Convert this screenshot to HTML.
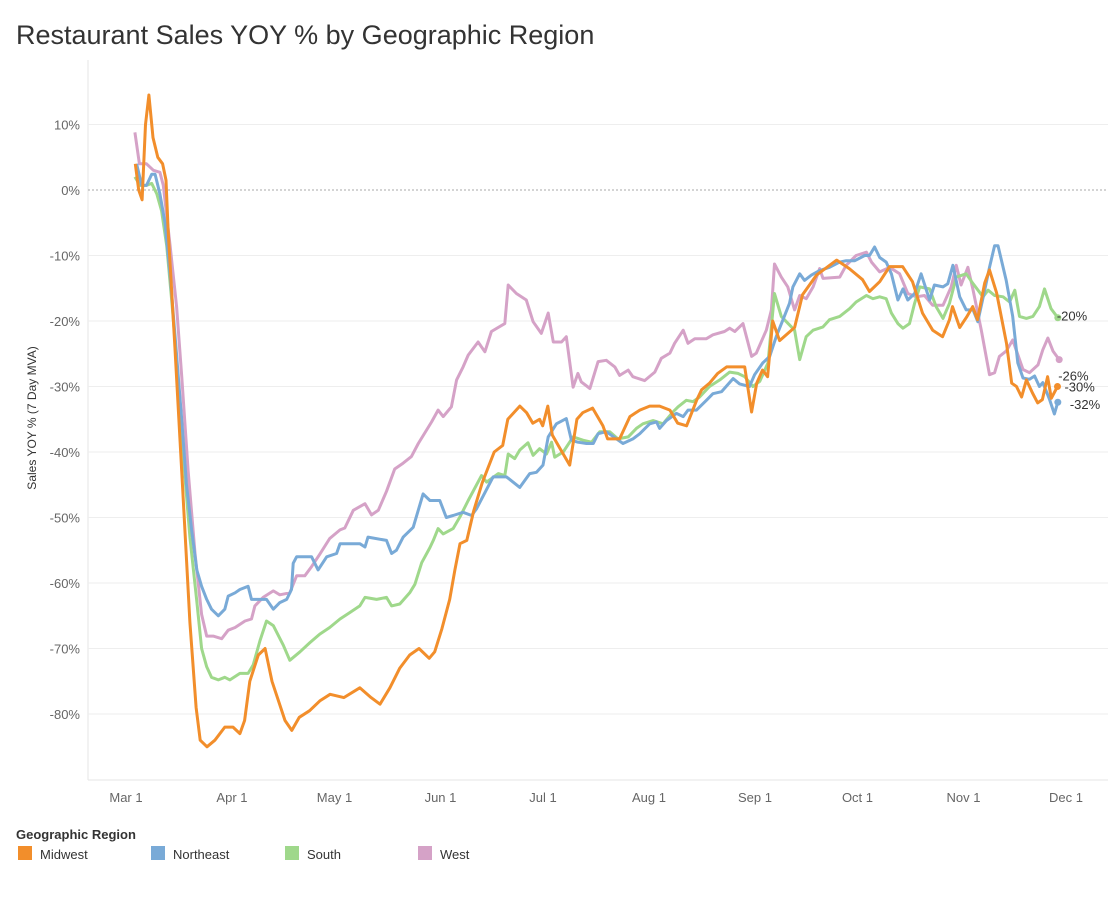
<!DOCTYPE html>
<html><head><meta charset="utf-8"><style>
body{margin:0;background:#fff;font-family:"Liberation Sans",sans-serif;}
svg text{font-family:"Liberation Sans",sans-serif;}
</style></head><body>
<svg id="chart" width="1120" height="896" viewBox="0 0 1120 896">
<text x="16" y="44" font-size="27" fill="#333">Restaurant Sales YOY % by Geographic Region</text>
<line x1="88" y1="60" x2="88" y2="780" stroke="#e6e6e6"/>
<line x1="88" y1="780" x2="1108" y2="780" stroke="#e6e6e6"/>
<g id="grid"></g><g id="yticks"></g><g id="xticks"></g><g id="series"></g><g id="ends"></g>
<text transform="translate(36,418) rotate(-90)" text-anchor="middle" font-size="12" fill="#333">Sales YOY % (7 Day MVA)</text>
<g>
<text x="16" y="839" font-size="13" fill="#333" font-weight="bold">Geographic Region</text>
<g><rect x="18" y="846" width="14" height="14" fill="#f28e2b"/><text x="40" y="859" font-size="13" fill="#333">Midwest</text></g>
<g><rect x="151" y="846" width="14" height="14" fill="#79aad7"/><text x="173" y="859" font-size="13" fill="#333">Northeast</text></g>
<g><rect x="285" y="846" width="14" height="14" fill="#9fd88b"/><text x="307" y="859" font-size="13" fill="#333">South</text></g>
<g><rect x="418" y="846" width="14" height="14" fill="#d5a2c7"/><text x="440" y="859" font-size="13" fill="#333">West</text></g>
</g>
</svg>
<script>
const yTickVals=[10,0,-10,-20,-30,-40,-50,-60,-70,-80];
const xTickLabels=["Mar 1","Apr 1","May 1","Jun 1","Jul 1","Aug 1","Sep 1","Oct 1","Nov 1","Dec 1"];
const xTickDays=[0,31,61,92,122,153,184,214,245,275];
const midwestDays=[3,4,5,6,7,8.2,9.6,11,12,12.6,14.6,16.7,19,20.8,22,24,26.3,29.2,31.6,33.6,35,36.5,39,41,43,46.8,48.8,51,54,57,60,64,68.7,72,74.6,77.5,80.4,83.3,86,89,90.6,92.7,95,96.5,98,100,102,104.5,108,110.5,112,115.5,117.5,119.3,121.3,122.2,123.7,125,127.2,130.1,132.2,133.9,136.8,139.8,141.2,144.7,147.7,150.6,153.5,156.4,159.4,161.7,164.3,167.3,168.7,171,173.4,176,178.9,181.3,183.3,184.8,186.5,188,189.5,191.5,195.9,198.2,202.3,208.2,211.9,215.8,217.8,220.8,223.7,227.5,230.4,233.3,236.3,239.2,241.2,242.1,244.2,246.2,248,249.4,251.5,252.9,255,257.9,259.4,260.8,262.3,263.7,265.5,267,268.4,269.9,271,272.8];
const midwestVals=[4,0,-1.5,10,14.5,8,5,4,1.5,-6,-24,-44,-66,-79,-84,-85,-84,-82,-82,-83,-81,-75,-71,-70,-75,-81,-82.5,-80.5,-79.5,-78,-77,-77.5,-76,-77.5,-78.5,-76,-73,-71,-70,-71.5,-70.5,-67,-62.5,-58,-54,-53.5,-49,-44.7,-40,-39,-35,-33,-34,-35.6,-35,-36,-33,-37.4,-39.4,-42,-35,-34,-33.3,-36,-38,-38,-34.6,-33.6,-33,-33,-33.6,-35.6,-36,-32,-30.5,-29.5,-28,-27,-27,-27,-33.9,-29.5,-27.5,-28.5,-20,-23,-21,-16,-13,-10.7,-12,-13.7,-15.5,-14,-11.7,-11.7,-14,-18.8,-21.4,-22.4,-19.8,-17.8,-21,-19.4,-17.8,-19.8,-14.2,-12.2,-15.7,-23.4,-29.5,-30,-31.6,-29,-31,-32.5,-32,-28.5,-31.8,-30];
const northeastDays=[3.4,4.9,6.3,7.8,8.8,10.2,11.7,13.2,14.6,16.6,18,19.5,21,22.4,23.9,25.3,27.3,29.2,30.2,32.2,33.6,36,37,41.4,43.4,45.3,47.3,48.7,49.2,50.2,54.6,56.5,59,61.9,62.9,68.7,70.2,71.1,76.5,78,79.4,81.4,84.3,87.2,89.2,92.1,94,96,98.9,101.4,102.8,107.7,111.6,115.5,118.4,120.4,122.3,123.8,126.2,129.1,130.6,132.5,135,137,138.4,140.8,145.7,148.6,150.6,153.5,155.5,156.4,158.4,161.3,163.3,164.7,167.2,170.1,172,174.5,177.9,179.8,182.7,184.2,186.6,188.6,190.5,192.5,194.4,195.4,197.4,198.8,200.8,203.2,206.1,209.1,211,213.5,216.4,217.8,219.3,220.8,222.7,224.2,226.1,227.6,229,231,232.9,235.4,236.8,239.3,240.7,242.2,244.2,246.1,248.1,249.5,251.5,252.9,254.4,255.4,257.8,259.7,261.2,262.7,264.6,266.1,267.5,268.5,270.5,271.9,272.9];
const northeastVals=[4,0.7,0.7,2.4,2.4,-0.6,-5,-13,-22,-35,-45,-52,-58,-60.5,-62.5,-64,-65,-64,-62,-61.5,-61,-60.5,-62.5,-62.5,-64,-63,-62.5,-61,-57,-56,-56,-58,-56,-55.5,-54,-54,-54.5,-53,-53.5,-55.5,-55,-53,-51.5,-46.4,-47.4,-47.4,-50,-49.7,-49.2,-49.7,-48.7,-43.8,-43.8,-45.4,-43.3,-43.1,-42,-37.7,-35.7,-34.9,-38.2,-38.5,-38.7,-38.7,-37.2,-36.9,-38.7,-38,-37.2,-35.7,-35.4,-36.4,-35.2,-34.1,-34.6,-33.6,-33.6,-32.1,-31.1,-30.8,-28.8,-29.6,-30,-28.2,-26.4,-25.4,-22.4,-19.8,-17.3,-14.8,-12.8,-13.8,-13,-12.3,-11.8,-11,-10.8,-10.8,-10,-10,-8.7,-10.3,-11,-12.8,-16.8,-15.1,-16.8,-15.8,-12.8,-16.8,-14.5,-14.8,-14.3,-11.5,-16.3,-18.3,-18.3,-20.1,-15.3,-11.8,-8.5,-8.5,-13.8,-19.3,-26.4,-28.7,-28.9,-28.4,-30,-29.4,-32,-34.2,-32.4];
const southDays=[2.9,4.4,6.3,7.8,9.3,10.7,12.2,13.6,15.1,17,19,21,22.4,23.9,25.3,27.3,29.2,30.7,33.6,36,37.5,39.5,41.4,43.4,46.3,48.2,51.2,54.1,57,59.9,62.9,65.8,68.7,70.2,73.6,76.5,78,80.4,83.3,84.8,86.8,89.2,90.2,91.6,93.1,96,98,100.4,104.3,105.8,109.2,111.1,112.1,114,115.5,117.9,119.4,121.3,123.3,124.8,125.7,128.2,131.1,134,136.5,138.9,141.8,144.2,147.2,149.6,151.5,154.5,157.4,160.3,161.8,164.2,166.2,168.1,171,174,176.9,179.3,181.3,183.7,185.7,188.1,190,192,194.4,195.9,197.4,199.3,201.3,204.2,206.1,209.1,212,213.9,216.9,218.8,220.8,222.7,224.2,226.1,227.6,229.5,231,232.5,235.4,237.3,239.3,241.2,243.2,246.1,248.1,251,252.5,254.4,256.9,258.8,260.3,261.7,263.7,265.6,267.5,269,270.9,272.9];
const southVals=[2,0.7,0.7,1,-0.6,-3.2,-8.5,-16.5,-25.8,-40.3,-53,-62.8,-70,-72.8,-74.4,-74.8,-74.4,-74.8,-73.8,-73.8,-72.5,-68.8,-65.8,-66.5,-69.5,-71.8,-70.5,-69.1,-67.8,-66.8,-65.5,-64.5,-63.5,-62.2,-62.5,-62.2,-63.5,-63.2,-61.5,-60.2,-56.9,-54.6,-53.5,-51.7,-52.5,-51.7,-49.9,-47.4,-43.6,-44.6,-43.3,-43.6,-40.3,-41,-39.7,-38.6,-40.5,-39.5,-40.3,-38.5,-40.8,-40,-37.7,-38.2,-38.5,-36.9,-36.9,-38,-37.7,-36.4,-35.7,-35.2,-35.7,-33.9,-33.1,-32.1,-32.3,-31.6,-30,-29,-27.8,-28,-28.5,-30,-29.2,-26.4,-15.8,-19.3,-20.6,-21.4,-25.9,-22.4,-21.4,-20.9,-19.8,-19.3,-18.1,-17.1,-16.1,-16.6,-16.3,-16.6,-18.8,-20.4,-21.1,-20.4,-17.3,-14.8,-15.1,-17.8,-19.6,-17.3,-13.3,-12.8,-14.3,-16.3,-15.3,-16.1,-16.3,-17.1,-15.3,-19.3,-19.6,-19.3,-17.8,-15.1,-18.1,-19.5];
const westDays=[2.9,4.2,6.3,8.3,10.2,11.2,13.2,15.1,16.6,18.5,20.5,22.4,23.9,25.8,28.3,30.2,32.2,35.1,37,38,40.4,43.4,45.3,48.2,50.2,52.6,54.6,57,59.9,62.9,64.3,66.8,70.2,72.1,74.1,76.5,78.9,81.4,83.8,85.8,89.7,91.6,93.1,95.5,97,98.9,100.4,103.3,105.3,107.2,111.1,112.1,114.5,117.4,119.4,121.8,123.8,125.3,127.7,129.1,131.1,132.5,133.5,136,138.4,140.8,143.3,144.7,147.2,148.6,152,155,156.9,159.4,160.8,163.3,164.7,166.7,170.1,172,175.4,176.9,178.4,180.8,183.3,184.7,187.6,189.1,190,192,193.9,195.9,197.4,199.3,201.3,203.2,204.2,209.1,211,213.9,216.9,218.4,220.8,223.7,226.6,229,231.5,233.9,236.3,239.3,241.7,243.2,244.6,246.6,248.1,250.5,252.9,254.4,255.8,257.8,259.7,262.7,264.6,267.1,268.5,270,271.5,273.3];
const westVals=[8.8,4,4,3,2.7,0.7,-8.5,-17.8,-28.4,-43,-55.6,-64.8,-68.1,-68.1,-68.5,-67.2,-66.8,-65.8,-65.5,-63.5,-62.2,-61.2,-61.8,-61.5,-58.9,-58.9,-57.5,-55.6,-53.2,-51.9,-51.6,-48.9,-47.9,-49.6,-48.9,-46,-42.6,-41.7,-40.7,-38.7,-35.4,-33.6,-34.6,-33.1,-29,-27,-25.2,-23.2,-24.7,-21.6,-20.4,-14.5,-15.8,-16.8,-20.1,-21.9,-18.8,-23.2,-23.2,-22.4,-30.1,-28,-29.3,-30.3,-26.2,-26,-27,-28.3,-27.5,-28.5,-29.1,-27.8,-25.7,-24.9,-23.4,-21.4,-23.4,-22.7,-22.7,-22.1,-21.6,-21.1,-21.6,-20.4,-25.4,-24.9,-21.4,-18.3,-11.3,-13.3,-14.8,-18.3,-16.1,-16.6,-14.8,-12,-13.5,-13.3,-11.5,-10,-9.5,-11,-12.5,-11.8,-12.8,-15.8,-16.3,-16.1,-17.6,-17.6,-14.8,-11.5,-14.5,-11.8,-15.3,-21.4,-28.2,-27.9,-25.4,-24.6,-22.9,-27.4,-27.9,-26.7,-24.4,-22.6,-24.6,-25.9];
const endLabels=["-30%","-32%","-20%","-26%"];

const NS='http://www.w3.org/2000/svg';
const xs=d=>125+d*(940/275);
const ys=v=>190-v*6.55;
function mk(tag,attrs,parent){const e=document.createElementNS(NS,tag);for(const k in attrs)e.setAttribute(k,attrs[k]);parent.appendChild(e);return e;}
const grid=document.getElementById('grid'),yt=document.getElementById('yticks'),xt=document.getElementById('xticks');
yTickVals.forEach(v=>{
  const l=mk('line',{x1:88,x2:1108,y1:ys(v),y2:ys(v),stroke:v===0?'#aaa':'#eeeeee','stroke-dasharray':v===0?'2,2':'none'},grid);
  
  
  const t=mk('text',{x:80,y:ys(v)+5,'text-anchor':'end','font-size':13,fill:'#666'},yt);
  
  
  t.textContent=v+'%';
});
xTickDays.forEach((d,i)=>{
  const t=mk('text',{x:xs(d)+1,y:802,'text-anchor':'middle','font-size':13,fill:'#666'},xt);
  
  
  t.textContent=xTickLabels[i];
});
const series=[
  {name:'west',days:westDays,vals:westVals,color:'#d5a2c7',lab:3,dx:0,dy:0},
  {name:'south',days:southDays,vals:southVals,color:'#9fd88b',lab:2,dx:0,dy:0},
  {name:'northeast',days:northeastDays,vals:northeastVals,color:'#79aad7',lab:1,dx:0,dy:0},
  {name:'midwest',days:midwestDays,vals:midwestVals,color:'#f28e2b',lab:0,dx:0,dy:0}
];
const sg=document.getElementById('series'),eg=document.getElementById('ends');
const labOffsets={west:[-1,16],south:[-1,-2],northeast:[12,2],midwest:[7,0]};
series.forEach(s=>{
  const d=s.days.map((dd,i)=>(i?'L':'M')+xs(dd).toFixed(1)+','+ys(s.vals[i]).toFixed(1)).join('');
  const p=mk('path',{d:d,fill:'none',stroke:s.color,'stroke-width':3,'stroke-linejoin':'round'},sg);
  
  
  const n=s.days.length-1;
  const cx=xs(s.days[n]),cy=ys(s.vals[n]);
  const c=mk('circle',{cx:cx,cy:cy,r:3.5,fill:s.color},eg);
  
  
  const t=mk('text',{x:cx+labOffsets[s.name][0],y:cy+5+labOffsets[s.name][1],'font-size':13,fill:'#333'},eg);
  
  
  t.textContent=endLabels[s.lab];
});
</script>
</body></html>
